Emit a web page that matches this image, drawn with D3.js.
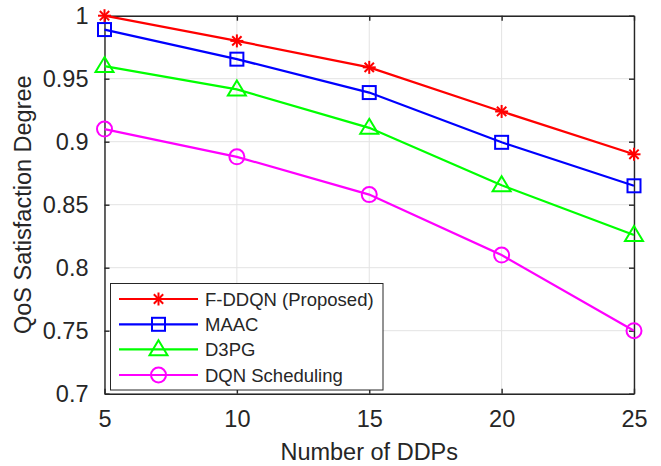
<!DOCTYPE html>
<html><head><meta charset="utf-8">
<script src="https://cdn.jsdelivr.net/npm/d3@7"></script>
<style>body{margin:0;background:#fff}svg{display:block}text{font-family:Arial,"Liberation Sans",Helvetica,sans-serif;fill:#262626}</style>
</head><body><svg id="c" width="661" height="466"></svg>
<script>
const xValues = [5, 10, 15, 20, 25];
const fddqn = [1.0, 0.98, 0.959, 0.924, 0.89];
const maac = [0.989, 0.9655, 0.939, 0.8995, 0.865];
const d3pg = [0.96, 0.9415, 0.911, 0.8655, 0.826];
const dqn = [0.91, 0.888, 0.858, 0.81, 0.75];
const seriesNames = ["F-DDQN (Proposed)", "MAAC", "D3PG", "DQN Scheduling"];
const xTicks = [5, 10, 15, 20, 25];
const yTicks = [0.7, 0.75, 0.8, 0.85, 0.9, 0.95, 1];
const xLabel = "Number of DDPs";
const yLabel = "QoS Satisfaction Degree";

const series = [
  {name: seriesNames[0], values: fddqn, color: "#ff0000", marker: "star"},
  {name: seriesNames[1], values: maac, color: "#0000ff", marker: "square"},
  {name: seriesNames[2], values: d3pg, color: "#00ff00", marker: "triangle"},
  {name: seriesNames[3], values: dqn, color: "#ff00ff", marker: "circle"}
];

const L = 104.5, R = 634, T = 15.7, B = 393.7;
const svg = d3.select("#c");
const x = d3.scaleLinear().domain([5, 25]).range([L, R]);
const y = d3.scaleLinear().domain([0.7, 1]).range([B, T]);

// grid
const g = svg.append("g");
g.selectAll(".gx").data(xTicks).enter().append("line")
  .attr("x1", d => x(d)).attr("x2", d => x(d)).attr("y1", T).attr("y2", B)
  .attr("stroke", "#e3e3e3").attr("stroke-width", 1);
g.selectAll(".gy").data(yTicks).enter().append("line")
  .attr("y1", d => y(d)).attr("y2", d => y(d)).attr("x1", L).attr("x2", R)
  .attr("stroke", "#e3e3e3").attr("stroke-width", 1);

// axes
const axCol = "#262626";
const xAxisB = d3.axisBottom(x).tickValues(xTicks).tickSizeInner(-5).tickSizeOuter(0).tickPadding(17).tickFormat(d3.format("d"));
const xAxisT = d3.axisTop(x).tickValues(xTicks).tickSizeInner(-5).tickSizeOuter(0).tickFormat("");
const yAxisL = d3.axisLeft(y).tickValues(yTicks).tickSizeInner(-5).tickSizeOuter(0).tickPadding(16).tickFormat(d => d3.format("")(+d.toFixed(2)));
const yAxisR = d3.axisRight(y).tickValues(yTicks).tickSizeInner(-5).tickSizeOuter(0).tickFormat("");

function styleAxis(sel) {
  sel.select(".domain").attr("stroke", axCol).attr("stroke-width", 1.4);
  sel.selectAll(".tick line").attr("stroke", axCol).attr("stroke-width", 1.4);
  sel.selectAll(".tick text").attr("font-size", 23.5).attr("fill", axCol)
    .style("font-family", "Arial, 'Liberation Sans', sans-serif");
}
svg.append("g").attr("transform", `translate(0,${B})`).call(xAxisB).call(styleAxis);
svg.append("g").attr("transform", `translate(0,${T})`).call(xAxisT).call(styleAxis);
svg.append("g").attr("transform", `translate(${L},0)`).call(yAxisL).call(styleAxis);
svg.append("g").attr("transform", `translate(${R},0)`).call(yAxisR).call(styleAxis);

// markers
function drawMarker(sel, type, color, cx, cy) {
  const m = sel.append("g").attr("transform", `translate(${cx},${cy})`)
    .attr("fill", "none").attr("stroke", color).attr("stroke-width", 2);
  if (type === "star") {
    const r = 6.5, d = r * 0.72;
    m.append("line").attr("x1", 0).attr("y1", -r).attr("x2", 0).attr("y2", r);
    m.append("line").attr("x1", -r).attr("y1", 0).attr("x2", r).attr("y2", 0);
    m.append("line").attr("x1", -d).attr("y1", -d).attr("x2", d).attr("y2", d);
    m.append("line").attr("x1", -d).attr("y1", d).attr("x2", d).attr("y2", -d);
  } else if (type === "square") {
    m.append("rect").attr("x", -6.5).attr("y", -6.5).attr("width", 13).attr("height", 13);
  } else if (type === "triangle") {
    m.append("path").attr("d", "M0,-9 L9,6 L-9,6 Z");
  } else {
    m.append("circle").attr("r", 7.5);
  }
}

const line = d3.line().x((d, i) => x(xValues[i])).y(d => y(d));
series.forEach(s => {
  svg.append("path").datum(s.values).attr("d", line)
    .attr("fill", "none").attr("stroke", s.color).attr("stroke-width", 2.2);
  s.values.forEach((v, i) => drawMarker(svg, s.marker, s.color, x(xValues[i]), y(v)));
});

// legend
const lg = svg.append("g");
lg.append("rect").attr("x", 110.5).attr("y", 283.5).attr("width", 272.5).attr("height", 106.5)
  .attr("fill", "#fff").attr("stroke", axCol).attr("stroke-width", 1);
const rowY = [299, 324.3, 349.3, 375];
series.forEach((s, i) => {
  lg.append("line").attr("x1", 119).attr("x2", 198).attr("y1", rowY[i]).attr("y2", rowY[i])
    .attr("stroke", s.color).attr("stroke-width", 2.2);
  drawMarker(lg, s.marker, s.color, 158.5, rowY[i]);
  lg.append("text").attr("x", 205).attr("y", rowY[i] + 6.6).attr("font-size", 18.5).text(s.name);
});

// labels
svg.append("text").attr("x", (L + R) / 2).attr("y", 460).attr("text-anchor", "middle")
  .attr("font-size", 23.5).text(xLabel);
svg.append("text").attr("transform", `translate(31,${(T + B) / 2}) rotate(-90)`)
  .attr("text-anchor", "middle").attr("font-size", 23.5).text(yLabel);
</script></body></html>
